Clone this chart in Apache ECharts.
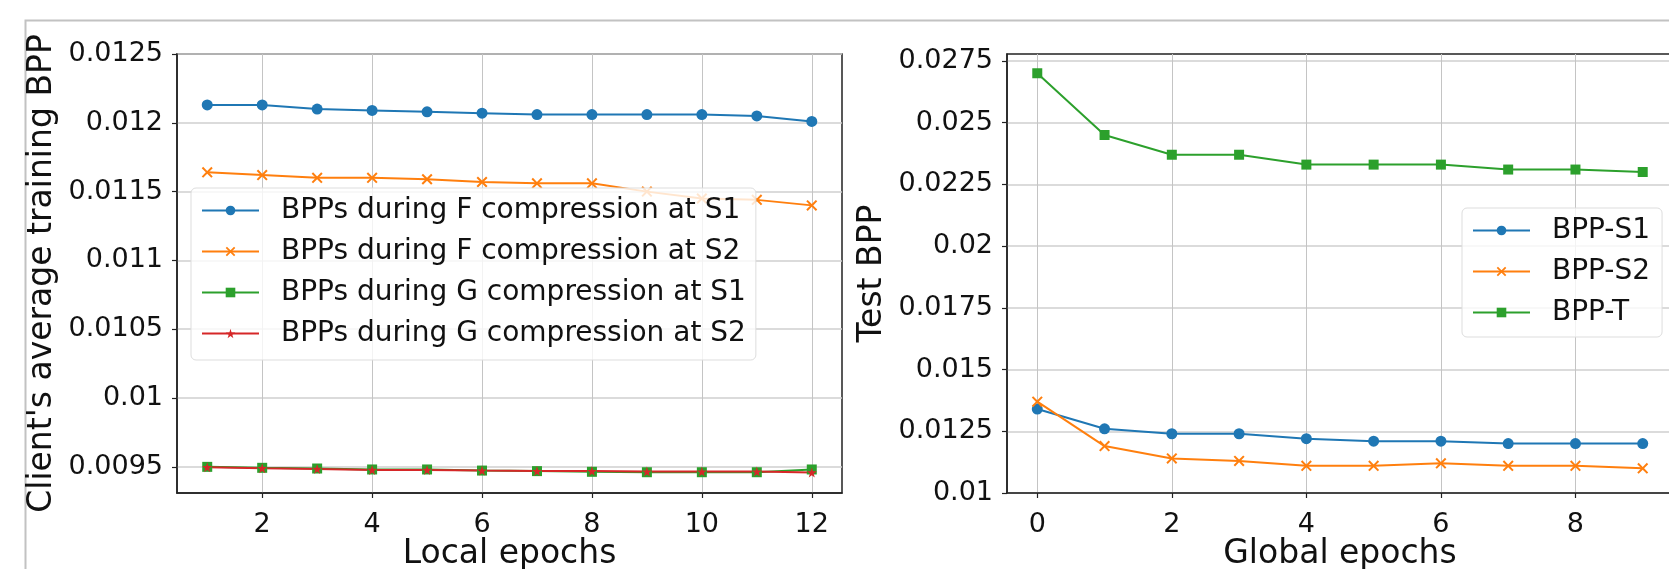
<!DOCTYPE html>
<html>
<head>
<meta charset="utf-8">
<script src="https://cdn.jsdelivr.net/npm/echarts@6/dist/echarts.min.js"></script>
<style>
  html, body { margin: 0; padding: 0; background: #fff; }
  #chart { width: 1669px; height: 569px; }
</style>
</head>
<body>
<div id="chart"></div>
<script>
// ---- Data ----
const localEpochs = [1, 2, 3, 4, 5, 6, 7, 8, 9, 10, 11, 12];
const bppF_S1 = [0.01213, 0.01213, 0.01210, 0.01209, 0.01208, 0.01207, 0.01206, 0.01206, 0.01206, 0.01206, 0.01205, 0.01201];
const bppF_S2 = [0.01164, 0.01162, 0.01160, 0.01160, 0.01159, 0.01157, 0.01156, 0.01156, 0.01150, 0.01145, 0.01144, 0.01140];
const bppG_S1 = [0.009500, 0.009493, 0.009488, 0.009481, 0.009481, 0.009473, 0.009469, 0.009464, 0.009461, 0.009461, 0.009461, 0.009481];
const bppG_S2 = [0.009498, 0.009490, 0.009485, 0.009478, 0.009478, 0.009473, 0.009469, 0.009469, 0.009466, 0.009466, 0.009466, 0.009459];

const globalEpochs = [0, 1, 2, 3, 4, 5, 6, 7, 8, 9];
const bppS1 = [0.0134, 0.0126, 0.0124, 0.0124, 0.0122, 0.0121, 0.0121, 0.0120, 0.0120, 0.0120];
const bppS2 = [0.0137, 0.0119, 0.0114, 0.0113, 0.0111, 0.0111, 0.0112, 0.0111, 0.0111, 0.0110];
const bppT  = [0.0270, 0.0245, 0.0237, 0.0237, 0.0233, 0.0233, 0.0233, 0.0231, 0.0231, 0.0230];

const leftYTicks  = ['0.0095', '0.01', '0.0105', '0.011', '0.0115', '0.012', '0.0125'];
const leftXTicks  = ['2', '4', '6', '8', '10', '12'];
const rightYTicks = ['0.01', '0.0125', '0.015', '0.0175', '0.02', '0.0225', '0.025', '0.0275'];
const rightXTicks = ['0', '2', '4', '6', '8'];

const leftNames  = ['BPPs during F compression at S1', 'BPPs during F compression at S2', 'BPPs during G compression at S1', 'BPPs during G compression at S2'];
const rightNames = ['BPP-S1', 'BPP-S2', 'BPP-T'];

// ---- Styles ----
const C = { blue: '#1f77b4', orange: '#ff7f0e', green: '#2ca02c', red: '#d62728' };
const FONT = 'DejaVu Sans';
const xSym = 'path://M0,1.3 L1.3,0 L5,3.7 L8.7,0 L10,1.3 L6.3,5 L10,8.7 L8.7,10 L5,6.3 L1.3,10 L0,8.7 L3.7,5 Z';
const starSym = 'path://M50,0 L61,35 L98,35 L68,57 L79,91 L50,70 L21,91 L32,57 L2,35 L39,35 Z';

function pairs(xs, ys) { return xs.map((x, i) => [x, ys[i]]); }

function mkSeries(name, xs, ys, color, symbol, size, xi) {
  return {
    name: name, type: 'line', xAxisIndex: xi, yAxisIndex: xi,
    data: pairs(xs, ys),
    symbol: symbol, symbolSize: size, showSymbol: true,
    lineStyle: { color: color, width: 2 },
    itemStyle: { color: color },
    emphasis: { disabled: true },
    animation: false
  };
}

function valueAxisX(min, max, ticks, name) {
  const vals = ticks.map(Number);
  return {
    type: 'value', min: min, max: max,
    name: name, nameLocation: 'middle', nameGap: 45, nameMoveOverlap: false,
    nameTextStyle: { fontSize: 33, fontFamily: FONT, color: '#111' },
    axisLine: { show: true, onZero: false, lineStyle: { color: '#222', width: 1.5 } },
    axisTick: { show: true, length: 5, inside: false, customValues: vals, lineStyle: { color: '#222', width: 1.2 } },
    axisLabel: { customValues: vals, fontSize: 27, fontFamily: FONT, color: '#111', margin: 18,
      formatter: v => { const i = vals.indexOf(v); return i >= 0 ? ticks[i] : String(v); } },
    splitLine: { show: true, lineStyle: { color: '#c4c4c4', width: 1 } }
  };
}
function valueAxisY(min, max, ticks, name, gap) {
  const vals = ticks.map(Number);
  return {
    type: 'value', min: min, max: max,
    name: name, nameLocation: 'middle', nameGap: gap, nameRotate: 90, nameMoveOverlap: false,
    nameTextStyle: { fontSize: 33, fontFamily: FONT, color: '#111' },
    axisLine: { show: true, onZero: false, lineStyle: { color: '#222', width: 1.5 } },
    axisTick: { show: true, length: 5, inside: false, customValues: vals, lineStyle: { color: '#222', width: 1.2 } },
    axisLabel: { customValues: vals, fontSize: 27, fontFamily: FONT, color: '#111', margin: 14,
      formatter: v => { const i = vals.indexOf(v); return i >= 0 ? ticks[i] : String(v); } },
    splitLine: { show: true, lineStyle: { color: '#cfcfcf', width: 1.5 } }
  };
}

const legendCommon = {
  orient: 'vertical', itemWidth: 57, itemHeight: 12, itemGap: 12,
  backgroundColor: 'rgba(255,255,255,0.8)', borderColor: '#dddddd', borderWidth: 1, borderRadius: 5,
  textStyle: { fontSize: 28, fontFamily: FONT, color: '#111', lineHeight: 29, padding: [0, 0, 0, 17] },
  selectedMode: false
};

const chart = echarts.init(document.getElementById('chart'), null, { renderer: 'canvas' });
chart.setOption({
  backgroundColor: '#ffffff',
  animation: false,
  graphic: [{
    type: 'rect', left: 23, top: 18, silent: true, z: -10,
    shape: { width: 1700, height: 600 },
    style: { fill: 'none', stroke: '#c2c2c2', lineWidth: 2 }
  }],
  grid: [
    { left: 177, top: 54, width: 665, height: 439, show: true, borderColor: '#222', borderWidth: 1.5, backgroundColor: 'transparent', outerBoundsMode: 'none', containLabel: false },
    { left: 1007, top: 54, width: 666, height: 439, show: true, borderColor: '#222', borderWidth: 1.5, backgroundColor: 'transparent', outerBoundsMode: 'none', containLabel: false }
  ],
  xAxis: [
    Object.assign(valueAxisX(0.45, 12.55, leftXTicks, 'Local epochs'), { gridIndex: 0 }),
    Object.assign(valueAxisX(-0.45, 9.45, rightXTicks, 'Global epochs'), { gridIndex: 1 })
  ],
  yAxis: [
    Object.assign(valueAxisY(0.00931, 0.0125, leftYTicks, "Client's average training BPP", 118), { gridIndex: 0 }),
    Object.assign(valueAxisY(0.01, 0.02778, rightYTicks, 'Test BPP', 118), { gridIndex: 1 })
  ],
  legend: [
    Object.assign({}, legendCommon, { left: 191, top: 188, padding: [8, 10, 12, 10], data: leftNames }),
    Object.assign({}, legendCommon, { left: 1462, top: 208, padding: [8, 12, 10, 10], data: rightNames })
  ],
  series: [
    mkSeries(leftNames[0], localEpochs, bppF_S1, C.blue, 'circle', 11, 0),
    mkSeries(leftNames[1], localEpochs, bppF_S2, C.orange, xSym, 11, 0),
    mkSeries(leftNames[2], localEpochs, bppG_S1, C.green, 'rect', 10, 0),
    mkSeries(leftNames[3], localEpochs, bppG_S2, C.red, starSym, 10, 0),
    mkSeries(rightNames[0], globalEpochs, bppS1, C.blue, 'circle', 11, 1),
    mkSeries(rightNames[1], globalEpochs, bppS2, C.orange, xSym, 11, 1),
    mkSeries(rightNames[2], globalEpochs, bppT, C.green, 'rect', 10, 1)
  ]
});
</script>
</body>
</html>
